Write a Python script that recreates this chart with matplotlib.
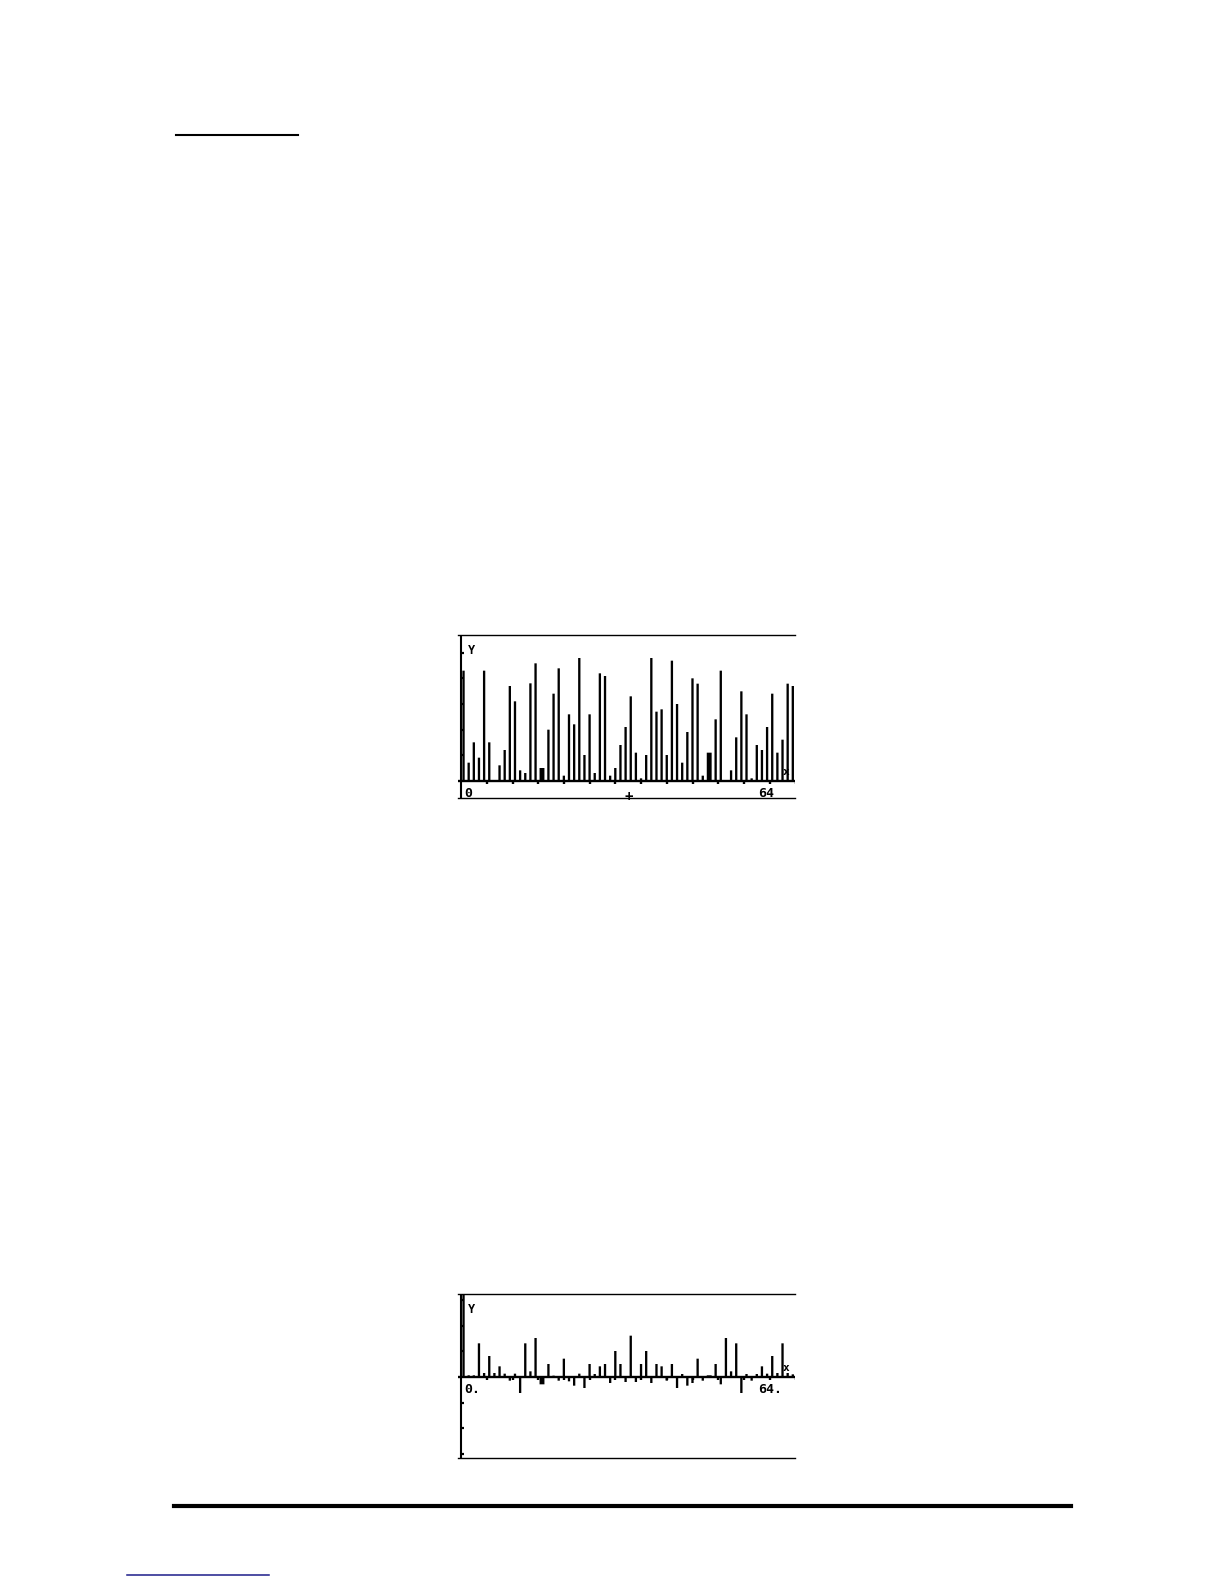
import numpy as np
import matplotlib
matplotlib.use("Agg")
import matplotlib.pyplot as plt
from matplotlib.lines import Line2D

W, H, DPI = 1224, 1584, 100

# Screen 1: the 64 sampled values (bar heights, screen units)
signal = [33.1, 5.5, 11.6, 7.0, 33.1, 11.6, 0.0, 4.7, 9.3, 28.5,
          23.9, 3.2, 2.4, 29.3, 35.3, 3.9, 15.4, 26.2, 33.8, 1.6,
          20.0, 17.0, 36.9, 7.8, 20.0, 2.4, 32.3, 31.5, 1.6, 3.9,
          10.8, 16.2, 25.4, 8.5, 0.8, 7.8, 36.9, 20.8, 21.5, 7.8,
          36.1, 23.1, 5.5, 14.7, 30.8, 29.2, 1.6, 8.5, 18.5, 33.1,
          0.0, 3.2, 13.1, 26.9, 20.0, 0.8, 10.8, 9.3, 16.2, 26.2,
          8.5, 12.4, 29.2, 28.5]

# Screen 2: real part of the transform (k <-> 64-k symmetric)
fft_re = [30.0, 0.5, 0.5, 10.1, 1.2, 6.3, 1.2, 3.2, 1.0, -1.1,
          1.0, -4.8, 10.1, 1.7, 11.7, -2.2, 3.9, 0.4, -1.1, 5.5,
          -1.3, -2.6, 1.0, -3.3, 3.9, 0.9, 3.2, 3.9, -1.8, 7.8,
          3.9, -1.5, 12.4, -1.5, 3.9, 7.8, -1.8, 3.9, 3.2, -1.1,
          3.9, -3.3, 0.9, -2.6, -1.8, 5.5, -1.1, 0.5, 3.9, -2.2,
          11.7, 1.7, 10.1, -4.8, 0.9, -1.1, 0.9, 3.2, 1.0, 6.3,
          1.2, 10.1, 1.2, 0.8]

screen1_ylim = (-5.1, 43.8)
screen2_ylim = (-24.3, 24.9)
screen1_xlabels = ("0", "64")
screen2_xlabels = ("0.", "64.")

# LCD emulation: 131 columns, 2.03125 columns per x unit
NCOL = 131
PPU = 2.03125
PHASE = 0.51
PXU = 0.77          # one LCD pixel in y screen units
LCD_FONT = dict(family="DejaVu Sans Mono", weight="bold", color="black")


def cell(k):
    return np.floor(np.asarray(k, dtype=float) * PPU + PHASE) + 1


def draw_screen(fig, top, bottom, values, ylim, xlabels, cursor=False):
    left, right = 458, 795
    ax = fig.add_axes([left / W, 1 - bottom / H, (right - left) / W, (bottom - top) / H])
    ax.set_xlim(-0.7 / PPU, (NCOL - 0.7) / PPU)
    ax.set_ylim(*ylim)
    for s in ("left", "right"):
        ax.spines[s].set_visible(False)
    for s in ("top", "bottom"):
        ax.spines[s].set_linewidth(1.0)
    ax.set_xticks([])
    ax.set_yticks([])

    k = np.arange(len(values))
    start = cell(k)
    span = cell(k + 1) - start - 1
    bars = ax.bar(start / PPU, values, width=(span - 0.1) / PPU, align="edge",
                  color="black", linewidth=0)
    for b in bars:
        b.set_snap(False)

    # axes of the calculator plot
    ax.axhline(0, color="black", lw=1.7)
    ax.axvline(0.6 / PPU, color="black", lw=1.5)
    for c in range(10, NCOL, 10):
        ax.plot([(c + 0.5) / PPU] * 2, [0, -1.3 * PXU], color="black", lw=1.7,
                solid_capstyle="butt")
    yt = np.arange(-5, 6) * 10 * PXU
    for y in yt:
        if y != 0 and ylim[0] < y < ylim[1]:
            ax.plot([0, 1.8 / PPU], [y, y], color="black", lw=1.6, solid_capstyle="butt")

    ax.text(3.3 / PPU, ylim[1] - 2.8, "Y", fontsize=8.5, ha="left", va="top", **LCD_FONT)
    ax.text(125.5 / PPU, 2.8, "x", fontsize=8, ha="left", va="center", **LCD_FONT)
    ax.text(1.8 / PPU, -1.7, xlabels[0], fontsize=9.5, ha="left", va="top", **LCD_FONT)
    ax.text(116.0 / PPU, -1.7, xlabels[1], fontsize=9.5, ha="left", va="top", **LCD_FONT)
    if cursor:
        ax.text(65.5 / PPU, ylim[0] + 0.3, "+", fontsize=10, ha="center", va="center", **LCD_FONT)
    return ax


fig = plt.figure(figsize=(W / DPI, H / DPI), dpi=DPI)
fig.patch.set_facecolor("white")

draw_screen(fig, 635, 798, signal, screen1_ylim, screen1_xlabels, cursor=True)
draw_screen(fig, 1294, 1458, fft_re, screen2_ylim, screen2_xlabels)

# page furniture
fig.add_artist(Line2D([176 / W, 298 / W], [1 - 135 / H] * 2, color="black", lw=1.5))
fig.add_artist(Line2D([174 / W, 1071 / W], [1 - 1506 / H] * 2, color="black", lw=3.0))
fig.add_artist(Line2D([127 / W, 269 / W], [1 - 1575 / H] * 2, color="#1c1c8a", lw=1.1))

fig.savefig("out.png", dpi=DPI, facecolor="white")
